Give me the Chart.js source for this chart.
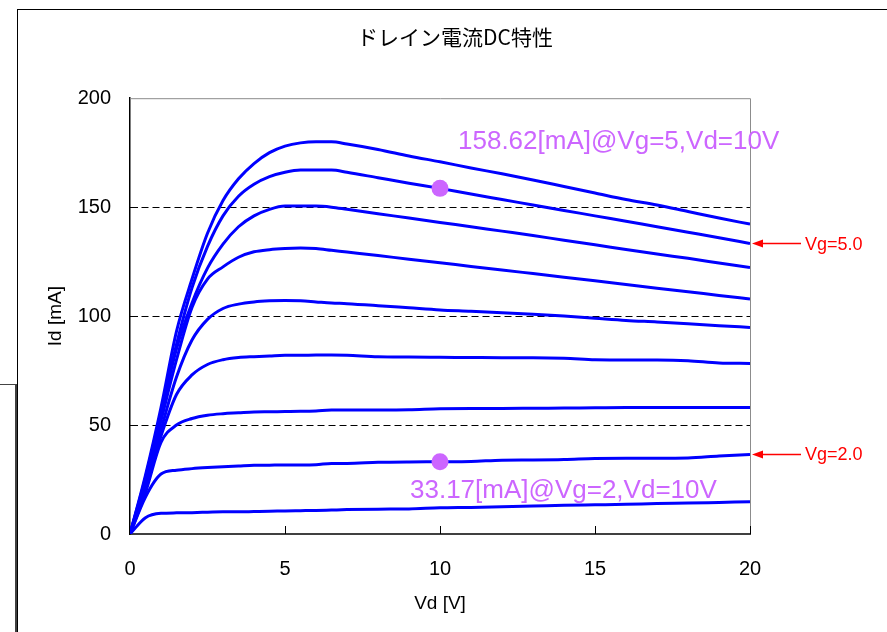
<!DOCTYPE html>
<html>
<head>
<meta charset="utf-8">
<script src="https://cdn.jsdelivr.net/npm/chart.js@4.4.1/dist/chart.umd.min.js"></script>
<style>
  html, body { margin: 0; padding: 0; background: #fff; overflow: hidden; width: 887px; height: 632px; }
  #frame { position: absolute; left: 17px; top: 9px; width: 1000px; height: 1000px; border-left: 1px solid #000; border-top: 1px solid #000; }
  #side { position: absolute; left: -5px; top: 384px; width: 20px; height: 400px; border-top: 1px solid #444; border-right: 3px solid #404040; }
  #chart { position: absolute; left: 18px; top: 10px; }
</style>
</head>
<body>
<div id="side"></div>
<div id="frame"></div>
<canvas id="chart" width="874" height="622"></canvas>
<script>
// Vd [V] sample points shared by all curves
const vd = [0, 0.5, 1, 1.5, 2, 2.5, 3, 3.5, 4, 4.5, 5, 5.5, 6, 6.5, 7, 8, 9, 10, 11, 12, 13, 14, 15, 16, 17, 18, 19, 20];

// Id [mA] per gate voltage
const id55 = [0, 27, 58, 93, 117, 138, 153, 163, 170, 175, 178, 179.5, 180, 180, 179, 176.5, 173.5, 170.8, 168, 165.3, 162.5, 159.5, 156.5, 153.5, 151, 148, 145, 142.2];
const id50 = [0, 26, 56, 87, 113, 132, 146, 155, 160.5, 164, 166, 167, 167, 167, 166, 163.5, 161, 158.62, 156, 153.5, 151, 148.5, 146, 143.5, 141, 138.5, 136, 133.3];
const id45 = [0, 25, 55, 85, 106, 122, 133, 141, 146, 149, 150.5, 150.5, 150.5, 150, 149, 147, 145, 143, 141, 139, 137, 134.8, 132.7, 130.6, 128.5, 126.5, 124.4, 122.3];
const id40 = [0, 24, 52, 80, 104, 117, 122.6, 127, 129.5, 130.5, 131, 131.2, 131, 130.2, 129.4, 127.8, 126.1, 124.5, 122.8, 121.2, 119.5, 117.8, 116.2, 114.5, 112.8, 111.2, 109.5, 107.9];
const id35 = [0, 23, 48, 72, 89, 98.5, 103.5, 105.5, 106.5, 107, 107.2, 107, 106.5, 106, 105.7, 104.8, 103.8, 102.8, 102.2, 101.5, 100.8, 100, 99, 98, 97.3, 96.5, 95.6, 94.8];
const id30 = [0, 21, 45, 64, 73, 77.8, 80, 81, 81.4, 81.7, 82, 82, 82.1, 82.1, 82, 81.3, 81.2, 81.1, 81, 80.9, 80.9, 80.7, 80, 79.8, 79.8, 79.5, 78.5, 78.3];
const id25 = [0, 19, 42, 50, 53, 54.5, 55.2, 55.6, 56, 56.1, 56.2, 56.3, 56.5, 56.9, 56.9, 56.9, 57, 57.5, 57.6, 57.6, 57.7, 57.8, 57.9, 58, 58, 58, 58, 58];
const id20 = [0, 17, 27.5, 29.3, 30, 30.5, 30.9, 31.2, 31.5, 31.6, 31.7, 31.7, 31.8, 32.4, 32.4, 32.9, 33.1, 33.17, 33.3, 33.9, 34, 34.2, 34.7, 34.8, 34.8, 34.9, 35.8, 36.5];
const id15 = [0, 7.5, 9.5, 9.7, 9.8, 10, 10.2, 10.2, 10.3, 10.4, 10.6, 10.7, 10.8, 11, 11.2, 11.4, 11.5, 12, 12.2, 12.5, 12.8, 13.2, 13.4, 13.6, 14, 14.2, 14.5, 14.8];

const vgLabels = ['Vg=5.5', 'Vg=5.0', 'Vg=4.5', 'Vg=4.0', 'Vg=3.5', 'Vg=3.0', 'Vg=2.5', 'Vg=2.0', 'Vg=1.5'];
const curves = [id55, id50, id45, id40, id35, id30, id25, id20, id15];

// marked points and their notes
const markVd = [10, 10];
const markId = [158.62, 33.17];
const markText = ['158.62[mA]@Vg=5,Vd=10V', '33.17[mA]@Vg=2,Vd=10V'];

// curves pointed at by the red arrows
const arrowCurve = [1, 7];
const arrowText = ['Vg=5.0', 'Vg=2.0'];

const yTicks = [0, 50, 100, 150, 200];
const xTicks = [0, 5, 10, 15, 20];

document.addEventListener('DOMContentLoaded', () => {
    const ctx = document.getElementById('chart').getContext('2d');
    const violet = '#cc66ff';

    const extras = {
        id: 'extras',
        beforeDatasetsDraw(chart) {
            const c = chart.ctx;
            const a = chart.chartArea;
            c.save();
            c.strokeStyle = '#8c8c8c';
            c.lineWidth = 1;
            c.beginPath();
            c.moveTo(a.left, a.top + 0.5);
            c.lineTo(a.right + 0.5, a.top + 0.5);
            c.lineTo(a.right + 0.5, a.bottom);
            c.stroke();
            c.restore();
        },
        afterDatasetsDraw(chart) {
            const c = chart.ctx;
            const a = chart.chartArea;
            const xs = chart.scales.x;
            const ys = chart.scales.y;
            c.save();

            // inward tick marks
            c.strokeStyle = '#000';
            c.lineWidth = 1;
            c.beginPath();
            yTicks.forEach(v => {
                if (v <= 0 || v >= 200) return;
                const y = Math.round(ys.getPixelForValue(v)) + 0.5;
                c.moveTo(a.left, y);
                c.lineTo(a.left + 8, y);
            });
            xTicks.forEach(v => {
                if (v <= 0) return;
                const x = Math.round(xs.getPixelForValue(v)) + 0.5;
                c.moveTo(x, a.bottom);
                c.lineTo(x, a.bottom - 8);
            });
            c.stroke();

            // notes next to the marked points
            const markMeta = chart.getDatasetMeta(0);
            c.fillStyle = violet;
            c.font = '26px "Liberation Sans", Arial, sans-serif';
            c.textBaseline = 'alphabetic';
            markMeta.data.forEach((p, i) => {
                if (i === 0) c.fillText(markText[i], p.x + 18, p.y - 39);
                else c.fillText(markText[i], p.x - 30, p.y + 36);
            });

            // red arrows and labels
            c.strokeStyle = '#ff0000';
            c.fillStyle = '#ff0000';
            c.lineWidth = 1.5;
            c.font = '18px "Liberation Sans", Arial, sans-serif';
            c.textBaseline = 'middle';
            arrowCurve.forEach((k, i) => {
                const meta = chart.getDatasetMeta(k + 1);
                const p = meta.data[meta.data.length - 1];
                const tip = p.x + 2;
                c.beginPath();
                c.moveTo(tip + 8, p.y);
                c.lineTo(p.x + 51, p.y);
                c.stroke();
                c.beginPath();
                c.moveTo(tip, p.y);
                c.lineTo(tip + 11, p.y - 4);
                c.lineTo(tip + 11, p.y + 4);
                c.closePath();
                c.fill();
                c.fillText(arrowText[i], p.x + 55, p.y + 1);
            });
            c.restore();
        }
    };

    const datasets = [{
        label: 'marks',
        data: markVd.map((x, i) => ({ x: x, y: markId[i] })),
        showLine: false,
        pointRadius: 8.5,
        pointBackgroundColor: violet,
        pointBorderWidth: 0,
        order: 0
    }];
    curves.forEach((ids, i) => {
        datasets.push({
            label: vgLabels[i],
            data: vd.map((x, j) => ({ x: x, y: ids[j] })),
            borderColor: '#0000ff',
            borderWidth: 3,
            pointRadius: 0,
            cubicInterpolationMode: 'monotone',
            fill: false,
            order: 1
        });
    });

    new Chart(ctx, {
        type: 'line',
        data: { datasets: datasets },
        plugins: [extras],
        options: {
            responsive: false,
            animation: false,
            layout: { padding: 0 },
            plugins: {
                legend: { display: false },
                tooltip: { enabled: false },
                title: {
                    display: true,
                    text: 'ドレイン電流DC特性',
                    color: '#000',
                    font: { family: '"Noto Sans CJK JP", sans-serif', size: 21, weight: 'normal' },
                    padding: { top: 14, bottom: 49 }
                }
            },
            scales: {
                x: {
                    type: 'linear',
                    min: 0,
                    max: 20,
                    afterBuildTicks: s => { s.ticks = xTicks.map(v => ({ value: v })); },
                    afterFit: s => { s.height = 98; },
                    grid: { display: false, drawTicks: false },
                    border: { display: true, color: '#404040', width: 2 },
                    ticks: {
                        color: '#000',
                        padding: 23,
                        maxRotation: 0,
                        font: { family: '"Liberation Sans", Arial, sans-serif', size: 20 }
                    },
                    title: {
                        display: true,
                        text: 'Vd [V]',
                        color: '#000',
                        padding: { top: 0, bottom: 17 },
                        font: { family: '"Liberation Sans", Arial, sans-serif', size: 19 }
                    }
                },
                y: {
                    min: 0,
                    max: 200,
                    afterBuildTicks: s => { s.ticks = yTicks.map(v => ({ value: v })); },
                    afterFit: s => { s.width = 112; },
                    grid: {
                        drawTicks: false,
                        color: c => (c.tick && (c.tick.value === 0 || c.tick.value === 200)) ? 'rgba(0,0,0,0)' : '#000',
                        lineWidth: 1
                    },
                    border: { display: true, color: '#000', width: 1.5, dash: [7, 4] },
                    ticks: {
                        color: '#000',
                        padding: 19,
                        font: { family: '"Liberation Sans", Arial, sans-serif', size: 20 }
                    },
                    title: {
                        display: true,
                        text: 'Id [mA]',
                        color: '#000',
                        padding: { top: 26, bottom: 0 },
                        font: { family: '"Liberation Sans", Arial, sans-serif', size: 19 }
                    }
                },
                // empty right-hand space where the arrow labels sit
                side: {
                    position: 'right',
                    display: true,
                    afterFit: s => { s.width = 142; },
                    grid: { display: false, drawTicks: false },
                    border: { display: false },
                    ticks: { display: false }
                }
            }
        }
    });
});
</script>
</body>
</html>
